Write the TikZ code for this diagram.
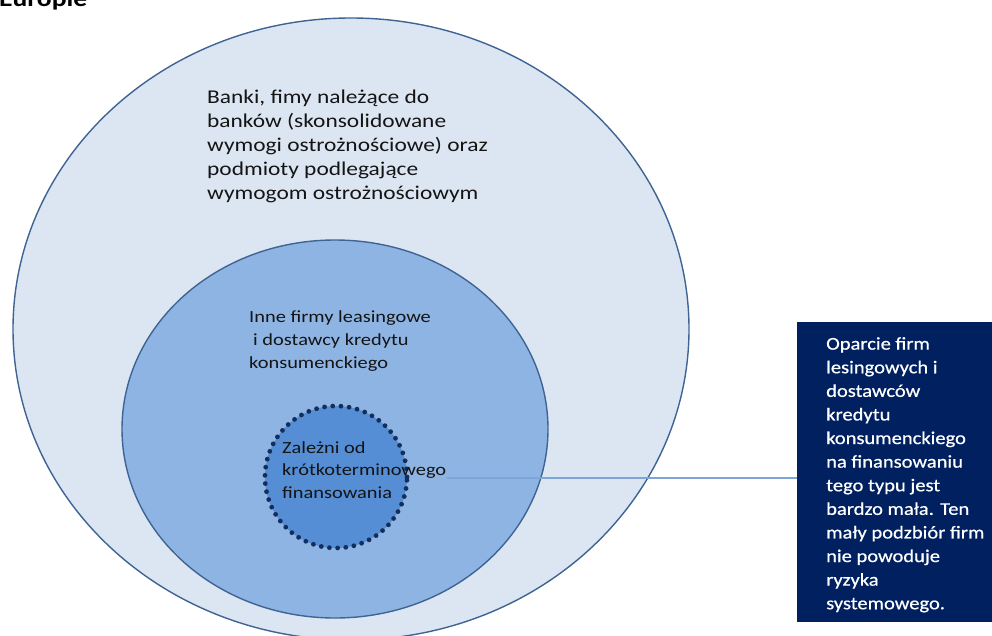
\documentclass[tikz,border=0pt]{standalone}
\usepackage{fontspec}
\setmainfont[FakeStretch=1.2]{Carlito}
\newfontfamily\boxfont[FakeStretch=1.14,FakeBold=0.6]{Carlito}
\usetikzlibrary{shapes.geometric}
\definecolor{outerfill}{HTML}{DCE6F2}
\definecolor{midfill}{HTML}{8EB4E3}
\definecolor{innerfill}{HTML}{558ED5}
\definecolor{edgecol}{HTML}{3F6494}
\definecolor{dotcol}{HTML}{142E5C}
\definecolor{boxfill}{HTML}{002060}
\definecolor{conncol}{HTML}{7DA5D8}
\definecolor{txt}{HTML}{141414}
\tikzset{
  ring/.style={ellipse, draw=edgecol, line width=1.4pt, inner sep=0pt},
  lbl/.style={anchor=north west, align=left, inner sep=0pt, text=txt},
  conn/.style={draw=conncol, line width=1.6pt},
}
\begin{document}
\begin{tikzpicture}[x=1pt,y=-1pt]
\useasboundingbox (0,0) rectangle (992,636);
\clip (0,0) rectangle (992,636);
\node[anchor=base west, inner sep=0pt, font=\bfseries\fontsize{23}{26}\selectfont, text=black] (title) at (-1,7) {Europie};
\node[ring, fill=outerfill, minimum width=676pt, minimum height=622pt] (outer) at (351,329) {};
\node[ring, fill=midfill, minimum width=426pt, minimum height=378pt] (mid) at (335,429) {};
\node[circle, fill=innerfill, draw=dotcol, line width=4.8pt, line cap=round, dash pattern=on 0pt off 8.2pt, minimum size=142pt, inner sep=0pt] (inner) at (336,477) {};
\node[lbl, font=\fontsize{19.5}{24}\selectfont] (t1) at (207,90) {Banki, fimy należące do\\banków (skonsolidowane\\wymogi ostrożnościowe) oraz\\podmioty podlegające\\wymogom ostrożnościowym};
\node[lbl, font=\fontsize{17}{23}\selectfont] (t2) at (249,310) {Inne firmy leasingowe\\\hspace{4pt}i dostawcy kredytu\\konsumenckiego};
\node[lbl, font=\fontsize{17}{22.5}\selectfont] (t3) at (282,441) {Zależni od\\krótkoterminowego\\finansowania};
\node[fill=boxfill, minimum width=196pt, minimum height=300pt, anchor=north west, inner sep=0pt] (box) at (797,322) {};
\node[lbl, text=white, font=\boxfont\fontsize{18}{23.6}\selectfont] (boxtext) at (826,337) {Oparcie firm\\lesingowych i\\dostawców\\kredytu\\konsumenckiego\\na finansowaniu\\tego typu jest\\bardzo mała. Ten\\mały podzbiór firm\\nie powoduje\\ryzyka\\systemowego.};
\coordinate (lstart) at (447,478);
\draw[conn] (lstart) -- (lstart -| box.west);
\end{tikzpicture}
\end{document}
